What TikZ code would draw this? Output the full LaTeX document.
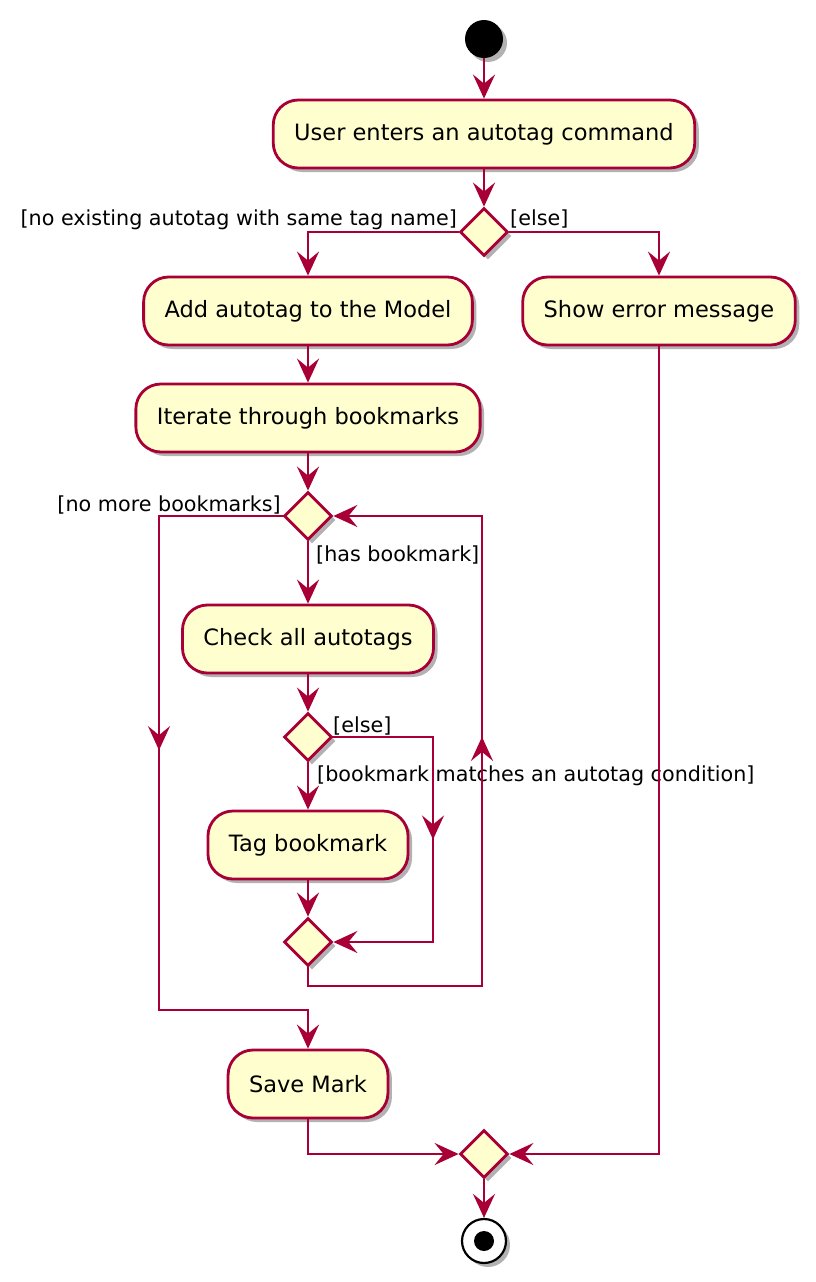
\documentclass[tikz,border=0pt]{standalone}
\usepackage{fontspec}
\setmainfont{DejaVu Sans}
\usetikzlibrary{arrows.meta,shapes.geometric,shadows,decorations.markings}
\definecolor{plred}{HTML}{A80036}
\definecolor{plfill}{HTML}{FEFECE}
\begin{document}
\begin{tikzpicture}[x=1pt,y=-1pt,
	>={Stealth[length=24pt,width=22pt,inset=9pt]},
	shade/.style={drop shadow={shadow xshift=4pt,shadow yshift=-4pt,fill=black,opacity=.3}},
	act/.style={rectangle,rounded corners=25pt,draw=plred,fill=plfill,line width=2.8pt,
		minimum height=68pt,inner xsep=21pt,font=\fontsize{22.5}{26}\selectfont,shade},
	dec/.style={diamond,draw=plred,fill=plfill,line width=2.8pt,minimum width=48pt,
		minimum height=48pt,inner sep=0pt,shade},
	flow/.style={draw=plred,line width=2.6pt},
	seg/.style={flow,line cap=rect},
	guard/.style={font=\fontsize{20.7}{24}\selectfont,inner sep=0pt},
	mid/.style={postaction={decorate},decoration={markings,mark=at position #1 with {\arrow{>}}}}]
	\useasboundingbox(0,0)rectangle(816,1282);
	% start and actions
	\node[circle,fill=black,minimum size=38pt,inner sep=0pt,shade](start)at(484,39){};
	\node[act](user)at(484,134){User enters an autotag command};
	\node[dec](d1)at(484,232){};
	\node[act](add)at(308,311){Add autotag to the Model};
	\node[act](err)at(659,311){Show error message};
	\node[act](iter)at(308,418){Iterate through bookmarks};
	\node[dec](d2)at(308,516){};
	\node[act](check)at(308,639){Check all autotags};
	\node[dec](d3)at(308,737){};
	\node[act](tag)at(308,845){Tag bookmark};
	\node[dec](d4)at(308,942){};
	\node[act](save)at(308,1084){Save Mark};
	\node[dec](merge)at(484,1154){};
	\node[circle,draw=black,fill=white,line width=2.2pt,minimum size=44pt,inner sep=0pt,shade](stop)at(484,1241){};
	\node[circle,fill=black,minimum size=20pt,inner sep=0pt]at(stop){};
	% guards
	\node[guard,anchor=base east]at(457,225){[no existing autotag with same tag name]};
	\node[guard,anchor=base west]at(510,225){[else]};
	\node[guard,anchor=base east]at(281,511){[no more bookmarks]};
	\node[guard,anchor=base west]at(316,561){[has bookmark]};
	\node[guard,anchor=base west]at(333,732){[else]};
	\node[guard,anchor=base west]at(317,781){[bookmark matches an autotag condition]};
	% corners
	\coordinate(lt)at(159,516);\coordinate(lb)at(159,1010);
	\coordinate(et)at(433,737);\coordinate(eb)at(433,942);
	\coordinate(rb)at(482,986);\coordinate(rt)at(482,516);
	% flows
	\draw[flow,->](start)--(user);
	\draw[flow,->](user)--(d1);
	\draw[flow,->](d1.west)-|(add.north);
	\draw[flow,->](d1.east)-|(err.north);
	\draw[flow,->](add)--(iter);
	\draw[flow,->](iter)--(d2);
	\draw[seg](d2.west)--(lt);
	\draw[seg,mid=0.474](lt)--(lb);
	\draw[seg,-{Stealth[length=24pt,width=22pt,inset=9pt]}](lb)-|(save.north);
	\draw[flow,->](d2)--(check);
	\draw[flow,->](check)--(d3);
	\draw[flow,->](d3)--(tag);
	\draw[seg](d3.east)--(et);
	\draw[seg,mid=0.5](et)--(eb);
	\draw[flow,->](eb)--(d4.east);
	\draw[flow,->](tag)--(d4);
	\draw[seg](d4.south)|-(rb);
	\draw[seg,mid=0.53](rb)--(rt);
	\draw[flow,->](rt)--(d2.east);
	\draw[flow,->](save.south)|-(merge.west);
	\draw[flow,->](err.south)|-(merge.east);
	\draw[flow,->](merge)--(stop);
\end{tikzpicture}
\end{document}
